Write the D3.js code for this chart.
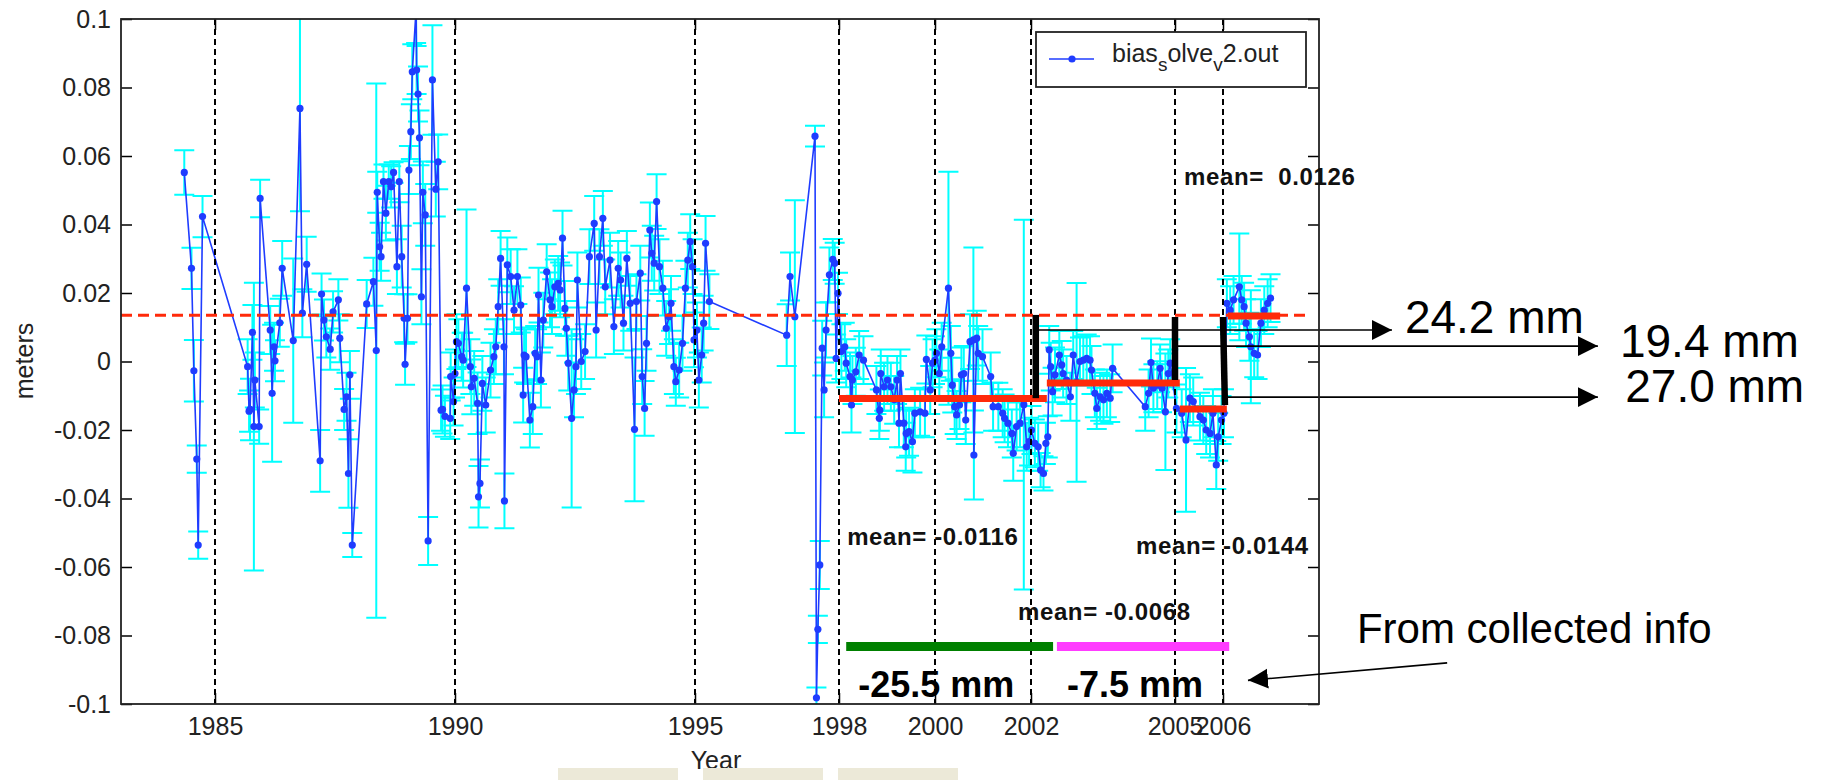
<!DOCTYPE html>
<html><head><meta charset="utf-8">
<script src="https://cdn.jsdelivr.net/npm/d3@7"></script>
<style>
body{margin:0;background:#fff;}
svg{display:block;}
text{font-family:"Liberation Sans",Arial,Helvetica,sans-serif;}
</style>
</head><body>
<svg id="chart" width="1832" height="780"></svg>
<script>
// ---------------- DATA ----------------
const years = [
1984.36,1984.51,1984.56,1984.62,1984.65,1984.74,1985.68,1985.71,1985.73,1985.78,
1985.81,1985.83,1985.92,1985.94,1986.15,1986.19,1986.23,1986.25,1986.35,1986.40,
1986.63,1986.77,1986.82,1986.91,1987.19,1987.22,1987.27,1987.32,1987.40,1987.46,
1987.57,1987.60,1987.69,1987.74,1987.78,1987.81,1987.86,1988.16,1988.30,1988.36,
1988.38,1988.43,1988.46,1988.51,1988.56,1988.62,1988.67,1988.72,1988.79,1988.84,
1988.89,1988.94,1988.96,1989.01,1989.04,1989.08,1989.11,1989.19,1989.20,1989.23,
1989.26,1989.30,1989.33,1989.38,1989.44,1989.53,1989.60,1989.65,1989.71,1989.74,
1989.79,1989.90,1989.91,1989.97,1990.00,1990.03,1990.07,1990.14,1990.17,1990.24,
1990.32,1990.34,1990.40,1990.47,1990.49,1990.52,1990.57,1990.64,1990.74,1990.81,
1990.85,1990.90,1990.95,1991.02,1991.03,1991.09,1991.16,1991.23,1991.30,1991.37,
1991.42,1991.44,1991.48,1991.56,1991.62,1991.67,1991.71,1991.74,1991.79,1991.84,
1991.91,1991.98,1992.02,1992.08,1992.15,1992.19,1992.24,1992.29,1992.32,1992.36,
1992.43,1992.48,1992.52,1992.55,1992.63,1992.71,1992.80,1992.90,1992.94,1993.01,
1993.08,1993.13,1993.23,1993.31,1993.40,1993.45,1993.51,1993.58,1993.65,1993.74,
1993.78,1993.86,1993.90,1993.95,1993.99,1994.06,1994.10,1994.15,1994.20,1994.26,
1994.33,1994.40,1994.46,1994.50,1994.56,1994.60,1994.67,1994.74,1994.80,1994.85,
1994.90,1994.95,1994.98,1995.04,1995.08,1995.14,1995.18,1995.22,1995.30,1996.91,
1996.98,1997.08,1997.50,1997.53,1997.56,1997.60,1997.65,1997.69,1997.73,1997.80,
1997.87,1997.91,1997.94,1997.98,1998.05,1998.12,1998.15,1998.23,1998.26,1998.28,
1998.35,1998.42,1998.51,1998.78,1998.84,1998.85,1998.87,1998.94,1999.01,1999.08,
1999.15,1999.21,1999.25,1999.28,1999.35,1999.39,1999.40,1999.46,1999.53,1999.58,
1999.69,1999.79,1999.82,1999.90,1999.95,2000.00,2000.03,2000.09,2000.14,2000.28,
2000.33,2000.36,2000.41,2000.45,2000.51,2000.55,2000.60,2000.64,2000.73,2000.80,
2000.81,2000.87,2000.90,2000.99,2001.16,2001.21,2001.32,2001.41,2001.45,2001.52,
2001.60,2001.63,2001.70,2001.77,2001.85,2001.91,2001.96,2002.01,2002.08,2002.15,
2002.20,2002.26,2002.31,2002.35,2002.38,2002.41,2002.45,2002.50,2002.59,2002.64,
2002.67,2002.74,2002.82,2002.88,2002.95,2003.02,2003.09,2003.16,2003.23,2003.26,
2003.33,2003.37,2003.44,2003.51,2003.58,2003.65,2003.70,2004.38,2004.45,2004.50,
2004.55,2004.63,2004.69,2004.73,2004.80,2004.86,2004.90,2005.03,2005.14,2005.23,
2005.31,2005.38,2005.52,2005.59,2005.65,2005.73,2005.79,2005.86,2005.90,2005.97,
2006.02,2006.08,2006.15,2006.22,2006.34,2006.39,2006.44,2006.48,2006.55,2006.58,
2006.65,2006.72,2006.79,2006.86,2006.93,2006.99
];
const biasValues = [
0.0552,0.0272,-0.0027,-0.0285,-0.0536,0.0423,-0.0015,-0.0145,-0.0140,0.0085,
-0.0190,-0.0054,-0.0190,0.0476,0.0092,-0.0093,0.0043,0.0002,0.0113,0.0272,
0.0061,0.0739,0.0141,0.0284,-0.0290,0.0197,0.0121,0.0072,0.0036,0.0145,
0.0180,0.0068,-0.0140,-0.0103,-0.0327,-0.0039,-0.0536,0.0168,0.0233,0.0032,
0.0494,0.0335,0.0306,0.0525,0.0433,0.0525,0.0510,0.0552,0.0277,0.0525,
0.0306,0.0126,-0.0008,0.0126,0.0559,0.0671,0.0846,0.1030,0.0851,0.0781,
0.0653,0.0189,0.0494,0.0428,-0.0524,0.0822,0.0503,0.0583,-0.0142,-0.0140,
-0.0160,-0.0166,-0.0044,-0.0117,-0.0035,0.0058,0.0053,0.0014,0.0004,0.0214,
-0.0015,-0.0074,-0.0049,-0.0122,-0.0395,-0.0356,-0.0064,-0.0127,-0.0025,0.0014,
0.0043,0.0160,0.0301,0.0043,-0.0407,0.0282,0.0248,0.0150,0.0248,0.0165,
-0.0098,0.0019,0.0014,-0.0171,-0.0132,0.0024,0.0014,0.0194,-0.0054,0.0121,
0.0262,0.0180,0.0160,0.0218,0.0228,0.0209,0.0360,0.0155,0.0097,-0.0005,
-0.0166,-0.0083,-0.0015,0.0238,0.0000,0.0029,0.0306,0.0403,0.0092,0.0306,
0.0418,0.0218,0.0296,0.0102,0.0272,0.0238,0.0112,0.0301,0.0170,-0.0198,
0.0175,0.0258,-0.0044,-0.0137,0.0053,0.0384,0.0316,0.0287,0.0467,0.0277,
0.0214,0.0097,0.0131,0.0170,-0.0015,-0.0059,-0.0025,0.0053,0.0214,0.0296,
0.0350,0.0277,0.0063,0.0092,-0.0054,0.0019,0.0112,0.0345,0.0175,0.0077,
0.0248,0.0131,0.0658,-0.0982,-0.0782,-0.0594,0.0039,-0.0083,0.0092,0.0253,
0.0298,0.0287,0.0009,0.0199,0.0029,0.0043,-0.0005,-0.0044,-0.0127,-0.0054,
-0.0030,0.0019,0.0004,-0.0083,-0.0166,-0.0142,-0.0035,-0.0074,-0.0054,-0.0074,
-0.0112,-0.0054,-0.0180,-0.0035,-0.0180,-0.0249,-0.0210,-0.0205,-0.0234,-0.0151,
-0.0147,-0.0151,0.0006,-0.0083,-0.0005,0.0004,0.0024,-0.0035,0.0043,0.0214,
0.0024,-0.0069,-0.0132,-0.0156,-0.0127,-0.0039,-0.0035,-0.0171,0.0058,0.0063,
-0.0273,0.0068,0.0024,0.0014,-0.0044,-0.0132,-0.0132,-0.0151,-0.0166,-0.0180,
-0.0210,-0.0268,-0.0190,-0.0180,-0.0126,-0.0249,-0.0234,-0.0200,-0.0239,-0.0249,
-0.0317,-0.0327,-0.0239,-0.0220,0.0034,-0.0015,-0.0088,-0.0039,0.0019,-0.0010,
-0.0035,-0.0054,-0.0103,0.0019,-0.0061,0.0000,0.0004,0.0009,0.0004,-0.0025,
-0.0093,-0.0137,-0.0103,-0.0112,-0.0093,-0.0107,-0.0020,-0.0132,-0.0093,-0.0003,
-0.0078,-0.0069,-0.0020,-0.0078,-0.0147,-0.0035,-0.0005,-0.0137,-0.0151,-0.0229,
-0.0107,-0.0117,-0.0161,-0.0171,-0.0200,-0.0210,-0.0151,-0.0302,-0.0220,-0.0171,
-0.0151,0.0170,0.0150,0.0180,0.0218,0.0180,0.0160,0.0112,0.0072,0.0043,
0.0024,0.0019,0.0112,0.0150,0.0170,0.0185
];
const biasErrors = [
0.0065,0.0060,0.0090,0.0040,0.0040,0.0060,0.0080,0.0060,0.0090,0.0080,
0.0420,0.0080,0.0050,0.0055,0.0070,0.0200,0.0070,0.0060,0.0070,0.0080,
0.0240,0.0300,0.0070,0.0080,0.0090,0.0060,0.0060,0.0060,0.0060,0.0060,
0.0060,0.0070,0.0060,0.0070,0.0100,0.0070,0.0035,0.0070,0.0070,0.0780,
0.0060,0.0070,0.0070,0.0050,0.0080,0.0050,0.0060,0.0030,0.0080,0.0060,
0.0090,0.0070,0.0060,0.0070,0.0070,0.0080,0.0080,0.0100,0.0070,0.0080,
0.0080,0.0080,0.0090,0.0090,0.0070,0.0160,0.0080,0.0080,0.0060,0.0070,
0.0060,0.0060,0.0070,0.0070,0.0070,0.0080,0.0070,0.0070,0.0080,0.0230,
0.0080,0.0080,0.0080,0.0090,0.0090,0.0070,0.0080,0.0080,0.0080,0.0080,
0.0080,0.0080,0.0080,0.0080,0.0080,0.0080,0.0080,0.0070,0.0080,0.0080,
0.0080,0.0080,0.0080,0.0080,0.0080,0.0080,0.0080,0.0080,0.0080,0.0080,
0.0080,0.0080,0.0080,0.0080,0.0080,0.0080,0.0080,0.0080,0.0080,0.0080,
0.0260,0.0080,0.0080,0.0080,0.0080,0.0080,0.0080,0.0080,0.0080,0.0080,
0.0080,0.0080,0.0080,0.0080,0.0080,0.0080,0.0080,0.0080,0.0080,0.0210,
0.0080,0.0080,0.0080,0.0080,0.0080,0.0080,0.0080,0.0080,0.0080,0.0080,
0.0080,0.0080,0.0080,0.0080,0.0080,0.0070,0.0080,0.0080,0.0080,0.0080,
0.0080,0.0080,0.0080,0.0080,0.0080,0.0080,0.0080,0.0080,0.0080,0.0090,
0.0070,0.0340,0.0030,0.0030,0.0040,0.0070,0.0080,0.0080,0.0080,0.0080,
0.0060,0.0060,0.0070,0.0060,0.0080,0.0070,0.0070,0.0070,0.0080,0.0070,
0.0070,0.0070,0.0070,0.0070,0.0060,0.0060,0.0070,0.0070,0.0070,0.0070,
0.0070,0.0070,0.0070,0.0070,0.0070,0.0070,0.0070,0.0070,0.0090,0.0070,
0.0070,0.0070,0.0070,0.0070,0.0070,0.0070,0.0070,0.0070,0.0070,0.0340,
0.0080,0.0080,0.0080,0.0070,0.0070,0.0080,0.0080,0.0070,0.0080,0.0270,
0.0130,0.0080,0.0080,0.0080,0.0070,0.0070,0.0070,0.0070,0.0070,0.0070,
0.0070,0.0080,0.0070,0.0070,0.0540,0.0070,0.0070,0.0070,0.0070,0.0070,
0.0050,0.0050,0.0060,0.0060,0.0070,0.0070,0.0070,0.0080,0.0070,0.0070,
0.0070,0.0070,0.0070,0.0070,0.0290,0.0070,0.0070,0.0070,0.0070,0.0070,
0.0070,0.0060,0.0070,0.0070,0.0070,0.0070,0.0070,0.0070,0.0070,0.0070,
0.0070,0.0070,0.0070,0.0070,0.0170,0.0070,0.0070,0.0070,0.0070,0.0210,
0.0070,0.0070,0.0070,0.0070,0.0070,0.0070,0.0070,0.0070,0.0070,0.0070,
0.0070,0.0070,0.0070,0.0070,0.0156,0.0070,0.0070,0.0070,0.0070,0.0165,
0.0070,0.0070,0.0070,0.0070,0.0070,0.0070
];
const xTickValues = [1985,1990,1995,1998,2000,2002,2005,2006];
const xTickLabels = ["1985","1990","1995","1998","2000","2002","2005","2006"];
const yTickValues = [-0.1,-0.08,-0.06,-0.04,-0.02,0,0.02,0.04,0.06,0.08,0.1];
const yTickLabels = ["-0.1","-0.08","-0.06","-0.04","-0.02","0","0.02","0.04","0.06","0.08","0.1"];
const overallMean = 0.0135;
const overallMeanSpan = [1983.0, 2007.73];
const meanStarts = [1998.0, 2002.33, 2005.10, 2006.10];
const meanEnds   = [2002.33, 2005.10, 2006.08, 2007.19];
const meanValues = [-0.0108, -0.0063, -0.0139, 0.0133];
const meanLabels = ["mean= -0.0116","mean= -0.0068","mean= -0.0144","mean=  0.0126"];
const stepYears  = [[2002.10,2002.10],[2005.00,2005.00],[2006.00,2006.04]];
const stepTops   = [0.0136, 0.0130, 0.0130];
const stepBottoms= [-0.0107, -0.0054, -0.0127];
const offsetLabels = ["24.2 mm","19.4 mm","27.0 mm"];
const offsetLevels = [0.0092, 0.0045, -0.0104];
const offsetFrom   = [2002.10, 2005.00, 2006.04];
const offsetTo     = [2009.52, 2013.81, 2013.81];
const collectedStarts = [1998.15, 2002.54];
const collectedEnds   = [2002.46, 2006.13];
const collectedLevel  = -0.0832;
const collectedLabels = ["-25.5 mm","-7.5 mm"];
const legendLabel = ["bias","s","olve","v","2.out"];

// ---------------- LAYOUT ----------------
const svg = d3.select("#chart");
const L = 121, R = 1319, T = 19, B = 704;
const x = d3.scaleLinear().domain([1983, 2008]).range([119, 1319]);
const y = d3.scaleLinear().domain([-0.1, 0.1]).range([B, T]);
const data = years.map((t,i)=>({t, v: biasValues[i], e: biasErrors[i]}));

svg.append("rect").attr("width",1832).attr("height",780).attr("fill","#fff");
svg.append("defs").append("clipPath").attr("id","clip")
  .append("rect").attr("x",L).attr("y",T).attr("width",R-L).attr("height",B-T);

const defs = svg.select("defs");
defs.append("marker").attr("id","arrow").attr("markerUnits","userSpaceOnUse")
  .attr("markerWidth",22).attr("markerHeight",22).attr("refX",20).attr("refY",10)
  .attr("orient","auto")
  .append("path").attr("d","M0,0L20,10L0,20Z").attr("fill","#000");

const plot = svg.append("g").attr("clip-path","url(#clip)");

// error bars
plot.append("g").selectAll("path").data(data).join("path")
  .attr("d", d => {
    const X = x(d.t), y1 = y(d.v + d.e), y2 = y(d.v - d.e);
    return `M${X},${y1}V${y2}M${X-10},${y1}h20M${X-10},${y2}h20`;
  })
  .attr("fill","none").attr("stroke","#00ffff").attr("stroke-width",2);

// line
plot.append("path").datum(data)
  .attr("d", d3.line().x(d=>x(d.t)).y(d=>y(d.v)))
  .attr("fill","none").attr("stroke","#1f3cff").attr("stroke-width",1.6);

plot.append("g").selectAll("circle").data(data).join("circle")
  .attr("cx", d=>x(d.t)).attr("cy", d=>y(d.v)).attr("r",3.6).attr("fill","#1f3cff");

// vertical dashed lines at ticks
svg.append("g").selectAll("line").data(xTickValues).join("line")
  .attr("x1",d=>x(d)).attr("x2",d=>x(d)).attr("y1",T).attr("y2",B)
  .attr("stroke","#000").attr("stroke-width",2).attr("stroke-dasharray","6,4");

// overall mean dashed line
svg.append("line")
  .attr("x1",x(overallMeanSpan[0])+2).attr("x2",x(overallMeanSpan[1]))
  .attr("y1",y(overallMean)).attr("y2",y(overallMean))
  .attr("stroke","#ff2a0a").attr("stroke-width",3).attr("stroke-dasharray","11,6");

// segment means
svg.append("g").selectAll("line").data(meanValues).join("line")
  .attr("x1",(d,i)=>x(meanStarts[i])).attr("x2",(d,i)=>x(meanEnds[i]))
  .attr("y1",d=>y(d)).attr("y2",d=>y(d))
  .attr("stroke","#ff2a0a").attr("stroke-width",7);

// thin offset lines with arrows
svg.append("g").selectAll("line").data(offsetLevels).join("line")
  .attr("x1",(d,i)=>x(offsetFrom[i])).attr("x2",(d,i)=>x(offsetTo[i]))
  .attr("y1",d=>y(d)).attr("y2",d=>y(d))
  .attr("stroke","#000").attr("stroke-width",1.6).attr("marker-end","url(#arrow)");

// step verticals
svg.append("g").selectAll("line").data(stepTops).join("line")
  .attr("x1",(d,i)=>x(stepYears[i][0])).attr("x2",(d,i)=>x(stepYears[i][1]))
  .attr("y1",d=>y(d)).attr("y2",(d,i)=>y(stepBottoms[i]))
  .attr("stroke","#000").attr("stroke-width",6.5);

// collected info bars
const collectedColors = ["#008000","#ff3cff"];
svg.append("g").selectAll("line").data(collectedStarts).join("line")
  .attr("x1",d=>x(d)).attr("x2",(d,i)=>x(collectedEnds[i]))
  .attr("y1",y(collectedLevel)).attr("y2",y(collectedLevel))
  .attr("stroke",(d,i)=>collectedColors[i]).attr("stroke-width",9);

// ---------------- AXES ----------------
const axisStyle = g => {
  g.select(".domain").remove();
  g.selectAll(".tick line").attr("stroke","#000").attr("stroke-width",1.5);
  g.selectAll(".tick text").attr("fill","#222").style("font-size","25px")
    .style("font-family",'"Liberation Sans",Arial,sans-serif');
};
svg.append("g").attr("transform",`translate(${L},0)`)
  .call(d3.axisLeft(y).tickValues(yTickValues).tickSize(-11).tickPadding(10)
    .tickFormat((d,i)=>yTickLabels[i])).call(axisStyle);
svg.append("g").attr("transform",`translate(${R},0)`)
  .call(d3.axisRight(y).tickValues(yTickValues).tickSize(-11).tickFormat(()=>"")).call(axisStyle);
svg.append("g").attr("transform",`translate(0,${B})`)
  .call(d3.axisBottom(x).tickValues(xTickValues).tickSize(-11).tickPadding(13)
    .tickFormat((d,i)=>xTickLabels[i])).call(axisStyle);
svg.append("g").attr("transform",`translate(0,${T})`)
  .call(d3.axisTop(x).tickValues(xTickValues).tickSize(-11).tickFormat(()=>"")).call(axisStyle);

svg.append("rect").attr("x",L).attr("y",T).attr("width",R-L).attr("height",B-T)
  .attr("fill","none").attr("stroke","#222").attr("stroke-width",1.8);

// axis titles
svg.append("text").attr("transform","translate(33,361) rotate(-90)")
  .attr("text-anchor","middle").style("font-size","25px").attr("fill","#222").text("meters");
svg.append("text").attr("x",716).attr("y",769).attr("text-anchor","middle")
  .style("font-size","25px").attr("fill","#222").text("Year");

// ---------------- LEGEND ----------------
const lg = svg.append("g");
lg.append("rect").attr("x",1036).attr("y",32).attr("width",270).attr("height",55)
  .attr("fill","#fff").attr("stroke","#222").attr("stroke-width",1.8);
lg.append("line").attr("x1",1049).attr("x2",1094).attr("y1",59).attr("y2",59)
  .attr("stroke","#1f3cff").attr("stroke-width",1.6);
lg.append("circle").attr("cx",1072).attr("cy",59).attr("r",3.6).attr("fill","#1f3cff");
const lt = lg.append("text").attr("x",1112).attr("y",62).style("font-size","25px").attr("fill","#222");
legendLabel.forEach((s,i)=>{
  const ts = lt.append("tspan").text(s);
  if (i===1 || i===3) ts.attr("dy",9).style("font-size","19px");
  else if (i>0) ts.attr("dy",-9);
});

// ---------------- ANNOTATION TEXT ----------------
const meanLabelPos = [[1998.17,-0.0536],[2001.73,-0.0755],[2004.19,-0.0562],[2005.19,0.0516]];
svg.append("g").selectAll("text").data(meanLabels).join("text")
  .attr("x",(d,i)=>x(meanLabelPos[i][0])).attr("y",(d,i)=>y(meanLabelPos[i][1]))
  .style("font-size","24px").style("font-weight","bold").style("white-space","pre")
  .style("letter-spacing","0.6px").attr("fill","#111").text(d=>d);

const offsetLabelPos = [[2009.79,0.0083],[2014.27,0.0013],[2014.38,-0.0118]];
svg.append("g").selectAll("text").data(offsetLabels).join("text")
  .attr("x",(d,i)=>x(offsetLabelPos[i][0])).attr("y",(d,i)=>y(offsetLabelPos[i][1]))
  .style("font-size","46px").attr("fill","#000").text(d=>d);

const collectedLabelPos = [[1998.40,-0.0980],[2002.75,-0.0980]];
svg.append("g").selectAll("text").data(collectedLabels).join("text")
  .attr("x",(d,i)=>x(collectedLabelPos[i][0])).attr("y",(d,i)=>y(collectedLabelPos[i][1]))
  .style("font-size","36px").style("font-weight","bold").attr("fill","#000").text(d=>d);

svg.append("text").attr("x",x(2008.79)).attr("y",y(-0.0822))
  .style("font-size","42px").attr("fill","#000").text("From collected info");
svg.append("line").attr("x1",x(2010.67)).attr("y1",y(-0.0880))
  .attr("x2",x(2006.52)).attr("y2",y(-0.0931))
  .attr("stroke","#000").attr("stroke-width",1.6).attr("marker-end","url(#arrow)");

// window buttons at the bottom edge
const btnX = [558, 703, 838];
svg.append("g").selectAll("rect").data(btnX).join("rect")
  .attr("x",d=>d).attr("y",768).attr("width",120).attr("height",20)
  .attr("fill","#ece9d8");
</script>
</body></html>
